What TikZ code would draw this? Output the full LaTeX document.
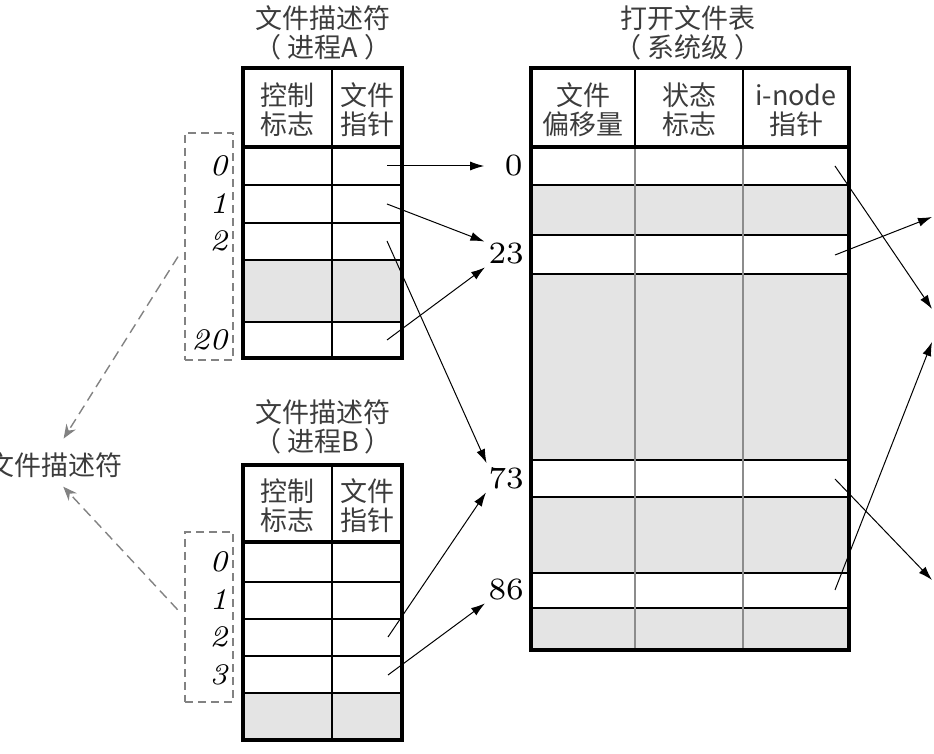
\documentclass[tikz,border=0pt]{standalone}
\usepackage{fontspec}
\usepackage{xcolor}
\usepackage{tikz}
\usetikzlibrary{arrows.meta, positioning, calc}
\newfontfamily\cjk{Noto Sans CJK SC}
\newfontfamily\numfont[ItalicFont=lmroman7-italic.otf]{lmroman7-regular.otf}
\definecolor{cellgray}{RGB}{228,228,228}
\definecolor{textgray}{RGB}{60,60,60}
\definecolor{dashgray}{RGB}{130,130,130}
\definecolor{rulegray}{RGB}{140,140,140}

\tikzset{
  cjktext/.style={font=\cjk\fontsize{13.5}{14.5}\selectfont, text=textgray, align=center, inner sep=0pt},
  idx/.style={font=\numfont\fontsize{15}{15}\selectfont\itshape, anchor=east, inner sep=0pt},
  num/.style={font=\numfont\fontsize{15.5}{15.5}\selectfont, anchor=east, text width=17pt, align=right, inner sep=0pt},
  ptr/.style={-{Latex[length=7pt,width=4.5pt]}, line width=0.5pt, shorten >=2pt},
  dasharrow/.style={-{Stealth[length=7pt,width=5.5pt]}, dashgray, line width=0.7pt, dash pattern=on 5pt off 3pt},
  idxbox/.style={draw=dashgray, line width=0.6pt, dash pattern=on 4pt off 2.5pt, inner sep=0pt},
  frame/.style={line width=2pt},
  grid/.style={line width=0.6pt},
}

\begin{document}
\begin{tikzpicture}[x=0.5pt, y=-0.5pt]
  \useasboundingbox (0,0) rectangle (934,754);

  % process A table
  \fill[cellgray] (243,260) rectangle (402,322);
  \foreach \y in {185,223,260,322}
    \draw[grid] (243,\y) -- (402,\y);
  \draw[grid] (332,68) -- (332,358);
  \draw[frame] (243,147) -- (402,147);
  \draw[frame] (243,68) rectangle (402,358);
  \node[cjktext] (titleA) at (323,33) {文件描述符\\（ 进程A ）};
  \node[cjktext] (ctlA) at (287,110) {控制\\标志};
  \node[cjktext] (ptrA) at (367,110) {文件\\指针};

  % process A index
  \node[idxbox, minimum width=24pt, minimum height=113.5pt] (boxA) at (209,246.5) {};
  \node[idx] (iA0) at (228,166) {0};
  \node[idx] (iA1) at (228,204) {1};
  \node[idx] (iA2) at (228,241) {2};
  \node[idx] (iA20) at (228,340) {20};

  % process B table
  \fill[cellgray] (243,693) rectangle (402,740);
  \foreach \y in {582,619,656,693}
    \draw[grid] (243,\y) -- (402,\y);
  \draw[grid] (332,465) -- (332,740);
  \draw[frame] (243,542) -- (402,542);
  \draw[frame] (243,465) rectangle (402,740);
  \node[cjktext] (titleB) at (323,427) {文件描述符\\（ 进程B ）};
  \node[cjktext] (ctlB) at (287,506) {控制\\标志};
  \node[cjktext] (ptrB) at (367,506) {文件\\指针};

  % process B index
  \node[idxbox, minimum width=24pt, minimum height=85pt] (boxB) at (209,617) {};
  \node[idx] (iB0) at (228,562) {0};
  \node[idx] (iB1) at (228,600) {1};
  \node[idx] (iB2) at (228,637) {2};
  \node[idx] (iB3) at (228,675) {3};

  % open file table
  \fill[cellgray] (531,185) rectangle (849,235);
  \fill[cellgray] (531,274) rectangle (849,460);
  \fill[cellgray] (531,497) rectangle (849,573);
  \fill[cellgray] (531,608) rectangle (849,650);
  \foreach \y in {185,235,274,460,497,573,608}
    \draw[grid] (531,\y) -- (849,\y);
  \foreach \x in {635,743} {
    \draw[grid] (\x,68) -- (\x,147);
    \draw[rulegray, line width=0.7pt] (\x,147) -- (\x,650);
  }
  \draw[frame] (531,147) -- (849,147);
  \draw[frame] (531,68) rectangle (849,650);
  \node[cjktext] (titleT) at (688,33) {打开文件表\\（ 系统级 ）};
  \node[cjktext] (offT) at (583,110) {文件\\偏移量};
  \node[cjktext] (stT) at (689,110) {状态\\标志};
  \node[cjktext] (inoT) at (796,110) {i-node\\指针};

  % row numbers
  \node[num] (n0) at (523,166) {0};
  \node[num] (n23) at (523,254) {23};
  \node[num] (n73) at (523,478) {73};
  \node[num] (n86) at (523,590) {86};

  % arrow ends
  \coordinate (a0) at (387,166);
  \coordinate (a1) at (387,204);
  \coordinate (a2) at (387,241);
  \coordinate (a20) at (387,340);
  \coordinate (b2) at (388,637);
  \coordinate (b3) at (388,675);
  \coordinate (m0) at (835,166);
  \coordinate (m23) at (835,255);
  \coordinate (m73) at (835,479);
  \coordinate (m86) at (835,590);
  \coordinate (out0) at (932,309);
  \coordinate (out23) at (932,217);
  \coordinate (out73) at (932,580);
  \coordinate (out86) at (932,342);

  % file pointers
  \draw[ptr] (a0) -- (n0.west);
  \draw[ptr] (a1) -- (n23.north west);
  \draw[ptr] (a2) -- (n73.north west);
  \draw[ptr] (a20) -- (n23.south west);
  \draw[ptr] (b2) -- (n73.south west);
  \draw[ptr] (b3) -- (n86.south west);

  % i-node pointers
  \draw[ptr, shorten >=0pt] (m0) -- (out0);
  \draw[ptr, shorten >=0pt] (m23) -- (out23);
  \draw[ptr, shorten >=0pt] (m73) -- (out73);
  \draw[ptr, shorten >=0pt] (m86) -- (out86);

  % file descriptor label
  \node[cjktext, anchor=east] (fdlabel) at (123,465) {文件描述符};
  \draw[dasharrow, shorten <=6pt, shorten >=8pt] (boxA.west) -- (fdlabel.north);
  \draw[dasharrow, shorten <=5pt, shorten >=6pt] (boxB.west) -- (fdlabel.south);
\end{tikzpicture}
\end{document}
